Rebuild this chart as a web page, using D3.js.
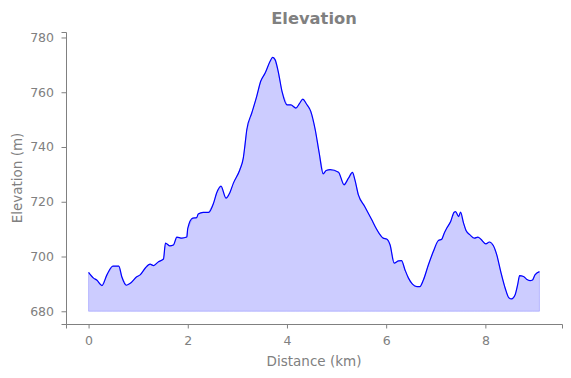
<!DOCTYPE html>
<html>
<head>
<meta charset="utf-8">
<script src="https://cdn.jsdelivr.net/npm/d3@7"></script>
<style>
  body { margin: 0; background: #fff; }
  text { font-family: "DejaVu Sans", sans-serif; fill: #808080; }
</style>
</head>
<body>
<svg id="chart" width="571" height="378"></svg>
<script>
// distance in km, elevation in m
const distance = [0, 0.1, 0.165, 0.27, 0.37, 0.49, 0.61, 0.67, 0.76, 0.84, 0.97, 1.04, 1.14, 1.24, 1.31, 1.41, 1.51, 1.55, 1.64, 1.71, 1.78, 1.88, 1.98, 2.0, 2.1, 2.18, 2.21, 2.31, 2.42, 2.52, 2.58, 2.67, 2.77, 2.85, 2.92, 3.05, 3.12, 3.15, 3.19, 3.29, 3.39, 3.47, 3.56, 3.66, 3.71, 3.76, 3.83, 3.9, 4.0, 4.08, 4.18, 4.25, 4.32, 4.39, 4.48, 4.57, 4.65, 4.73, 4.79, 4.87, 5.04, 5.15, 5.24, 5.32, 5.37, 5.44, 5.57, 5.71, 5.78, 5.88, 5.94, 6.01, 6.08, 6.16, 6.25, 6.31, 6.38, 6.45, 6.53, 6.62, 6.68, 6.75, 6.85, 6.95, 7.05, 7.12, 7.17, 7.22, 7.3, 7.37, 7.4, 7.46, 7.5, 7.56, 7.61, 7.69, 7.78, 7.85, 7.91, 8.01, 8.08, 8.16, 8.23, 8.31, 8.4, 8.47, 8.53, 8.6, 8.65, 8.69, 8.77, 8.83, 8.9, 8.95, 9.0, 9.09];
const elevation = [694.2, 692.1, 691.4, 689.4, 693.3, 696.5, 696.5, 692.6, 689.5, 690.2, 692.6, 693.3, 695.7, 697.2, 696.7, 698.1, 699.1, 704.9, 703.9, 704.2, 707.1, 706.7, 707.1, 710.3, 714, 714.2, 715.5, 716.1, 716.1, 719.5, 723.1, 725.7, 721.3, 723.4, 726.8, 731.7, 736, 740.2, 746.3, 752.4, 758.5, 764, 767, 771.3, 772.7, 771.9, 767, 760.3, 755.4, 755.4, 754.2, 755.8, 757.5, 755.8, 753, 746.3, 737.8, 730.2, 731.4, 731.7, 730.8, 726.2, 728.6, 730.7, 728, 722.5, 718.2, 713.4, 710.9, 707.9, 706.7, 706.4, 704.2, 697.6, 698.4, 698.5, 695.1, 692.1, 689.9, 689, 689, 691.4, 696.9, 701.8, 705.8, 706.3, 708.5, 710.3, 712.8, 716.2, 716.4, 714.6, 716.2, 712.2, 709.5, 707.9, 706.7, 707.1, 706.3, 704.6, 705.3, 704, 700.6, 694.5, 688.4, 685, 684.5, 686, 689.6, 693, 692.7, 691.7, 691.2, 691.4, 693.3, 694.5];
const baseElevation = 680;
const xTicks = [0, 2, 4, 6, 8];
const yTicks = [680, 700, 720, 740, 760, 780];

const points = distance.map((d, i) => ({ km: d, ele: elevation[i] }));

const svg = d3.select("#chart");
const margin = { top: 32, right: 9, bottom: 54, left: 66 };
const width = 571 - margin.left - margin.right;
const height = 378 - margin.top - margin.bottom;

const g = svg.append("g").attr("transform", `translate(${margin.left},${margin.top})`);

const xScale = d3.scaleLinear().domain([-0.455, 9.545]).range([0, width]);
const yScale = d3.scaleLinear().domain([675.35, 782]).range([height, 0]);

// filled profile
const area = d3.area()
    .x(d => xScale(d.km))
    .y0(yScale(baseElevation))
    .y1(d => yScale(d.ele));

g.append("path")
    .datum(points)
    .attr("d", area)
    .style("fill", "rgba(0,0,255,0.2)")
    .style("stroke", "rgba(0,0,255,0.2)")
    .style("stroke-width", 1);

const line = d3.line()
    .x(d => xScale(d.km))
    .y(d => yScale(d.ele))
    .curve(d3.curveMonotoneX);

g.append("path")
    .datum(points)
    .attr("d", line)
    .style("fill", "none")
    .style("stroke", "blue")
    .style("stroke-width", 1.2);

// axes
const xAxis = g.append("g")
    .attr("transform", `translate(0,${height})`)
    .call(d3.axisBottom(xScale).tickValues(xTicks).tickFormat(d3.format("d")).tickSizeOuter(0).tickSize(4.5).tickPadding(8));

const yAxis = g.append("g")
    .call(d3.axisLeft(yScale).tickValues(yTicks).tickFormat(d3.format("d")).tickSizeOuter(0).tickSize(4.5).tickPadding(7.5));

[xAxis, yAxis].forEach(ax => {
    ax.select(".domain").style("stroke", "#808080").style("stroke-width", 1);
    ax.selectAll(".tick line").style("stroke", "#808080");
    ax.selectAll(".tick text")
        .style("font-size", "12.5px")
        .style("fill", "#808080")
        .style("font-family", "DejaVu Sans, sans-serif");
});

// labels
svg.append("text")
    .attr("x", margin.left + width / 2)
    .attr("y", 24)
    .attr("text-anchor", "middle")
    .style("font-size", "16.3px")
    .style("font-weight", "bold")
    .text("Elevation");

svg.append("text")
    .attr("x", margin.left + width / 2)
    .attr("y", 366)
    .attr("text-anchor", "middle")
    .style("font-size", "13.5px")
    .text("Distance (km)");

svg.append("text")
    .attr("transform", `translate(22,${margin.top + height / 2}) rotate(-90)`)
    .attr("text-anchor", "middle")
    .style("font-size", "13.5px")
    .text("Elevation (m)");
</script>
</body>
</html>
